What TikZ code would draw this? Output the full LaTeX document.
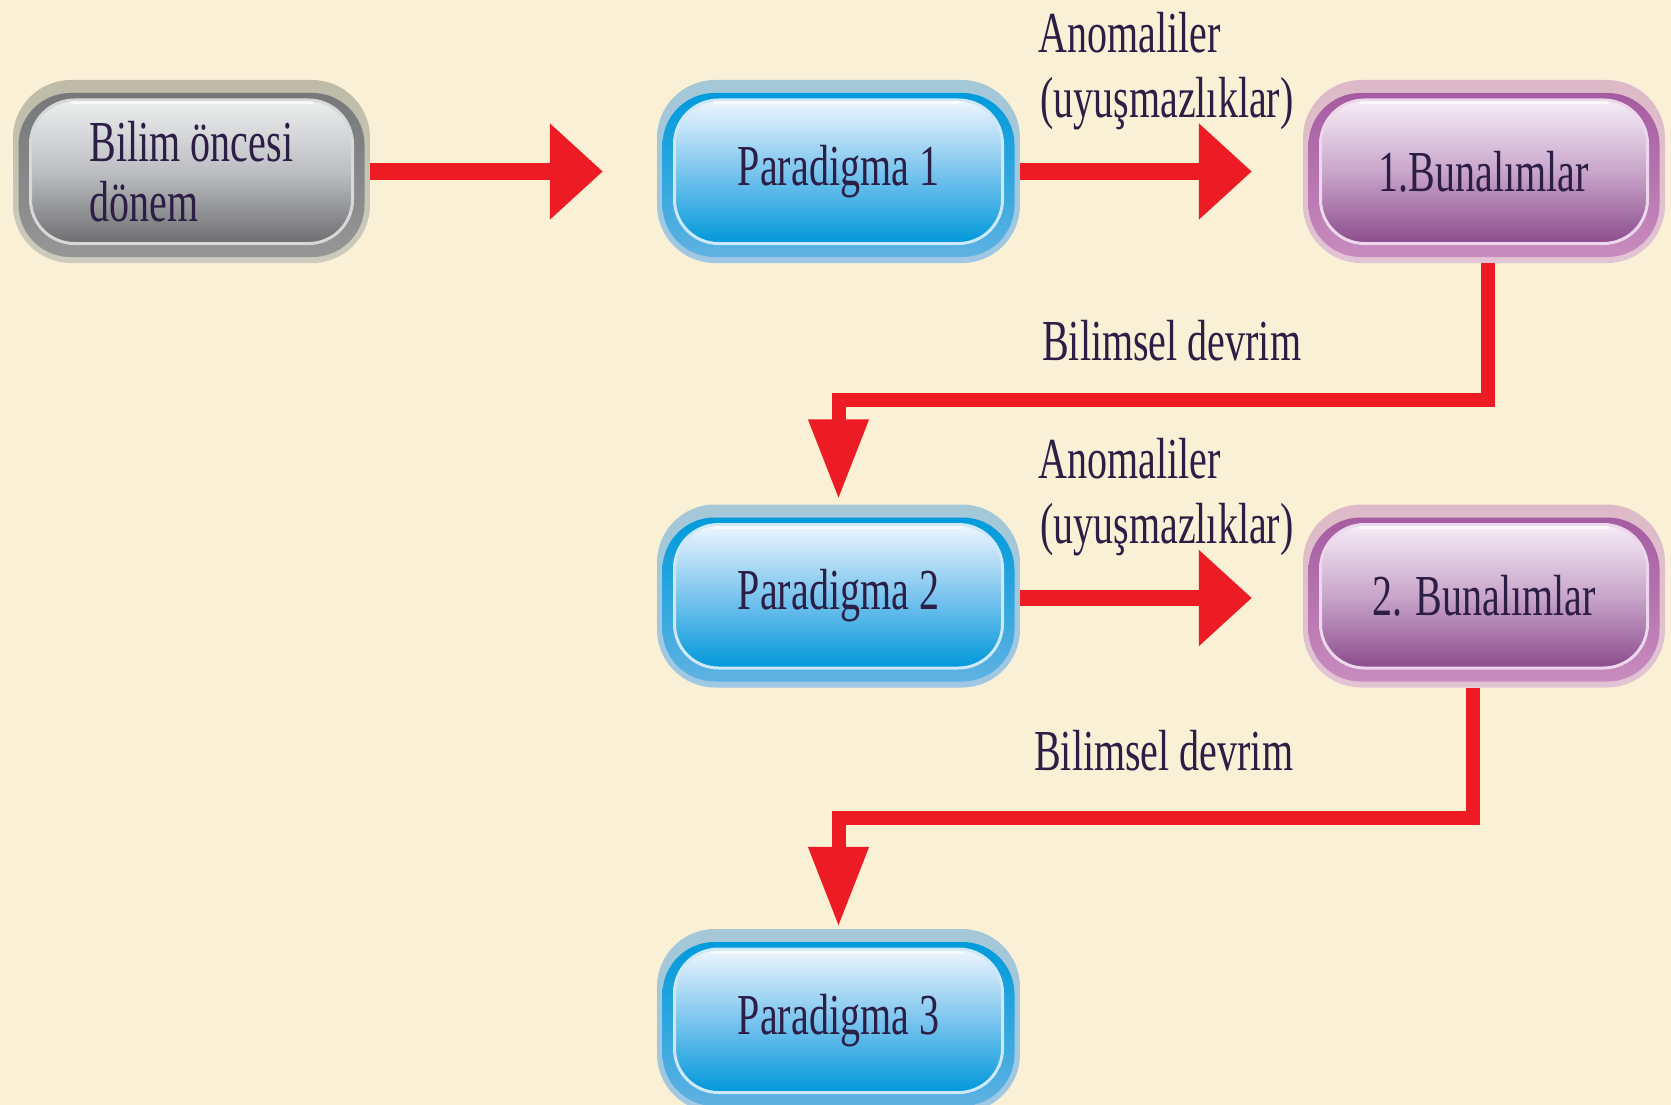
\documentclass[tikz,border=0pt]{standalone}
\usepackage{fontspec}
\newfontfamily\condserif[FakeStretch=0.69]{Liberation Serif}
\usetikzlibrary{calc,arrows.meta}

% page and text colours
\definecolor{bg}{RGB}{250,240,214}
\definecolor{txt}{RGB}{45,30,70}
\definecolor{arrowred}{RGB}{237,28,36}

% grey palette
\definecolor{greyhalo}{RGB}{190,188,168}
\definecolor{greyhalob}{RGB}{205,203,190}
\definecolor{greyborder}{RGB}{118,120,122}
\definecolor{greyborderb}{RGB}{150,150,150}
\definecolor{greytop}{RGB}{236,238,238}
\definecolor{greymid}{RGB}{188,190,194}
\definecolor{greybot}{RGB}{110,110,112}
\definecolor{greyrim}{RGB}{215,216,218}

% blue palette
\definecolor{bluehalo}{RGB}{165,200,215}
\definecolor{bluehalob}{RGB}{160,200,228}
\definecolor{blueborder}{RGB}{0,155,220}
\definecolor{blueborderb}{RGB}{95,178,226}
\definecolor{bluetop}{RGB}{238,246,253}
\definecolor{bluemid}{RGB}{122,196,238}
\definecolor{bluebot}{RGB}{0,152,218}
\definecolor{bluerim}{RGB}{205,232,248}

% purple palette
\definecolor{purphalo}{RGB}{222,186,200}
\definecolor{purphalob}{RGB}{226,196,212}
\definecolor{purpborder}{RGB}{165,92,160}
\definecolor{purpborderb}{RGB}{200,140,190}
\definecolor{purptop}{RGB}{246,237,246}
\definecolor{purpmid}{RGB}{200,165,202}
\definecolor{purpbot}{RGB}{140,76,140}
\definecolor{purprim}{RGB}{236,215,236}

\tikzset{
  lbl/.style={font=\condserif\fontsize{58}{65}\selectfont, text=txt, inner sep=0pt},
  boxtxt/.style={font=\condserif\fontsize{58}{60}\selectfont, text=txt, inner sep=0pt, align=left},
  redh/.style={draw=arrowred, line width=16pt, -{Triangle[length=53pt,width=93pt]}},
  redv/.style={draw=arrowred, line width=14pt, -{Triangle[length=80pt,width=57pt]}},
}

% glossy pill button: name, x, y, half width, palette, text
\newcommand\glossbox[6]{%
  \begin{scope}[shift={(#2,#3)}]
    \pgfmathsetmacro\hw{#4}
    \pgfmathsetmacro\bw{#4-5.5}
    \pgfmathsetmacro\iw{#4-17.5}
    \shade[rounded corners=58pt, top color=#5halo, bottom color=#5halob]
      (-\hw,-91.5) rectangle (\hw,91.5);
    \shade[rounded corners=52pt, top color=#5border, bottom color=#5borderb]
      (-\bw,-78.5) rectangle (\bw,85.5);
    \shade[rounded corners=44pt, draw=#5rim, line width=3pt,
           top color=#5top, bottom color=#5bot, middle color=#5mid]
      (-\iw,-71.5) rectangle (\iw,72);
    \draw[white, line width=3pt, opacity=0.7, line cap=round]
      (-\iw+40,-68.5) -- (\iw-40,-68.5);
  \end{scope}
  \node[boxtxt, minimum width=2*#4 pt, minimum height=183pt] (#1) at (#2,#3) {#6};
}

\begin{document}
\begin{tikzpicture}[x=1pt,y=-1pt]
  \fill[bg] (0,0) rectangle (1671,1105);
  \useasboundingbox (0,0) rectangle (1671,1105);
  \begin{scope}
    \clip (0,0) rectangle (1671,1105);

    % boxes
    \glossbox{pre}{191.5}{171.5}{178.5}{grey}{Bilim öncesi\\dönem}
    \glossbox{par1}{838.5}{171.5}{181.5}{blue}{Paradigma 1}
    \glossbox{cri1}{1484}{171.5}{181}{purp}{1.Bunalımlar}
    \glossbox{par2}{838.5}{596}{181.5}{blue}{Paradigma 2}
    \glossbox{cri2}{1484}{596}{181}{purp}{2. Bunalımlar}
    \glossbox{par3}{838.5}{1020.5}{181.5}{blue}{Paradigma 3}

    % connectors
    \draw[redh, shorten >=54pt] (pre.east) -- (par1.west);
    \draw[redh, shorten >=51pt] (par1.east) -- (cri1.west);
    \draw[redh, shorten >=51pt] ([yshift=-2pt]par2.east) -- ([yshift=-2pt]cri2.west);
    \draw[redv, shorten >=5pt] ([xshift=4pt]cri1.south) -- ++(0,137) -| (par2.north);
    \draw[redv, shorten >=2pt] ([xshift=-11pt]cri2.south) -- ++(0,130) -| (par3.north);

    % labels
    \node[lbl, anchor=base west] (anoma) at (1038,53) {Anomaliler};
    \node[lbl, anchor=base west] (anomb) at (1040,118) {(uyuşmazlıklar)};
    \node[lbl, anchor=base west] (devr1) at (1042,360) {Bilimsel devrim};
    \node[lbl, anchor=base west] (anomc) at (1038,478) {Anomaliler};
    \node[lbl, anchor=base west] (anomd) at (1040,543) {(uyuşmazlıklar)};
    \node[lbl, anchor=base west] (devr2) at (1034,770) {Bilimsel devrim};
  \end{scope}
\end{tikzpicture}
\end{document}
